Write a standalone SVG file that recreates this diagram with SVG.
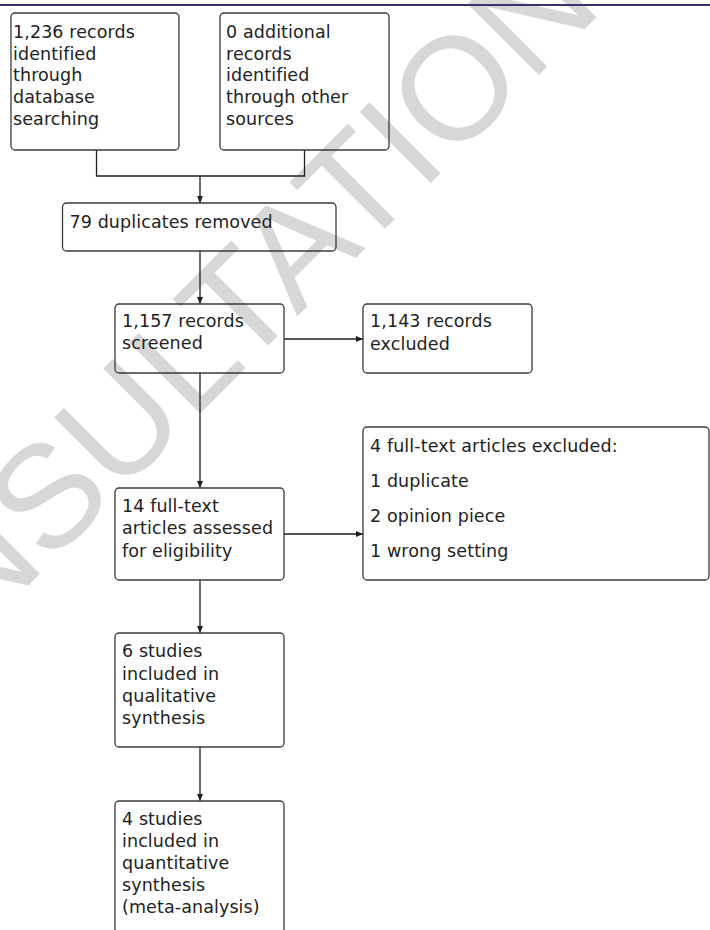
<svg xmlns="http://www.w3.org/2000/svg" width="710" height="930" viewBox="0 0 710 930">
  <style>
    .box { fill: none; stroke: #3a3a3a; stroke-width: 1.3; }
    .lbl { font-family: "DejaVu Sans", "Noto Sans", sans-serif; font-size: 17.5px; fill: #222222; letter-spacing: 0.1px; }
    .wire { fill: none; stroke: #1e1e1e; stroke-width: 1.3; }
    .mark { font-family: "Liberation Sans", Arial, sans-serif; font-size: 146px; fill: #d7d7d7; }
  </style>
  <defs>
    <marker id="head" markerUnits="userSpaceOnUse" markerWidth="8" markerHeight="7" refX="7" refY="3" orient="auto">
      <path d="M0,0 L7,3 L0,6 z" fill="#1e1e1e"/>
    </marker>
  </defs>

  <rect width="710" height="930" fill="#ffffff"/>

  <!-- diagonal stamp behind the chart -->
  <text class="mark" transform="rotate(-45)" x="-690" y="434">CONSULTATION</text>

  <!-- top rule -->
  <rect x="0" y="4" width="710" height="2" fill="#3b3170"/>

  <g id="connectors">
    <path class="wire" d="M96.5 150 V176 H304.5 V150"/>
    <path class="wire" d="M200 176 V203" marker-end="url(#head)"/>
    <path class="wire" d="M200 251 V304" marker-end="url(#head)"/>
    <path class="wire" d="M200 373 V488" marker-end="url(#head)"/>
    <path class="wire" d="M284 339 H363" marker-end="url(#head)"/>
    <path class="wire" d="M284 534 H363" marker-end="url(#head)"/>
    <path class="wire" d="M200 580 V633" marker-end="url(#head)"/>
    <path class="wire" d="M200 747 V801" marker-end="url(#head)"/>
  </g>

  <g id="db-search">
    <rect class="box" x="11" y="13" width="168" height="137" rx="4"/>
    <text class="lbl">
      <tspan x="13" y="38">1,236 records</tspan>
      <tspan x="13" y="59.7">identified</tspan>
      <tspan x="13" y="81.4">through</tspan>
      <tspan x="13" y="103">database</tspan>
      <tspan x="13" y="124.7">searching</tspan>
    </text>
  </g>

  <g id="other-sources">
    <rect class="box" x="220" y="13" width="169" height="137" rx="4"/>
    <text class="lbl">
      <tspan x="226" y="38">0 additional</tspan>
      <tspan x="226" y="59.7">records</tspan>
      <tspan x="226" y="81.4">identified</tspan>
      <tspan x="226" y="103">through other</tspan>
      <tspan x="226" y="124.7">sources</tspan>
    </text>
  </g>

  <g id="duplicates">
    <rect class="box" x="62.5" y="203" width="273.5" height="48" rx="4"/>
    <text class="lbl" x="69.5" y="227.7">79 duplicates removed</text>
  </g>

  <g id="screened">
    <rect class="box" x="115" y="304" width="169" height="69" rx="4"/>
    <text class="lbl">
      <tspan x="122" y="327.3">1,157 records</tspan>
      <tspan x="122" y="349.3">screened</tspan>
    </text>
  </g>

  <g id="records-excluded">
    <rect class="box" x="363" y="304" width="169" height="69" rx="4"/>
    <text class="lbl">
      <tspan x="370" y="327">1,143 records</tspan>
      <tspan x="370" y="349.5">excluded</tspan>
    </text>
  </g>

  <g id="full-text">
    <rect class="box" x="115" y="488" width="169" height="92" rx="4"/>
    <text class="lbl">
      <tspan x="122" y="512.3">14 full-text</tspan>
      <tspan x="122" y="534.3">articles assessed</tspan>
      <tspan x="122" y="556.5">for eligibility</tspan>
    </text>
  </g>

  <g id="articles-excluded">
    <rect class="box" x="363" y="427" width="346" height="153" rx="4"/>
    <text class="lbl">
      <tspan x="370" y="451.7">4 full-text articles excluded:</tspan>
      <tspan x="370" y="486.5">1 duplicate</tspan>
      <tspan x="370" y="521.7">2 opinion piece</tspan>
      <tspan x="370" y="556.7">1 wrong setting</tspan>
    </text>
  </g>

  <g id="qualitative">
    <rect class="box" x="115" y="633" width="169" height="114" rx="4"/>
    <text class="lbl">
      <tspan x="122" y="657.3">6 studies</tspan>
      <tspan x="122" y="679.5">included in</tspan>
      <tspan x="122" y="701.7">qualitative</tspan>
      <tspan x="122" y="724">synthesis</tspan>
    </text>
  </g>

  <g id="quantitative">
    <rect class="box" x="115" y="801" width="169" height="150" rx="4"/>
    <text class="lbl">
      <tspan x="122" y="825">4 studies</tspan>
      <tspan x="122" y="847.2">included in</tspan>
      <tspan x="122" y="869.3">quantitative</tspan>
      <tspan x="122" y="891.3">synthesis</tspan>
      <tspan x="122" y="913.3">(meta-analysis)</tspan>
    </text>
  </g>
</svg>
